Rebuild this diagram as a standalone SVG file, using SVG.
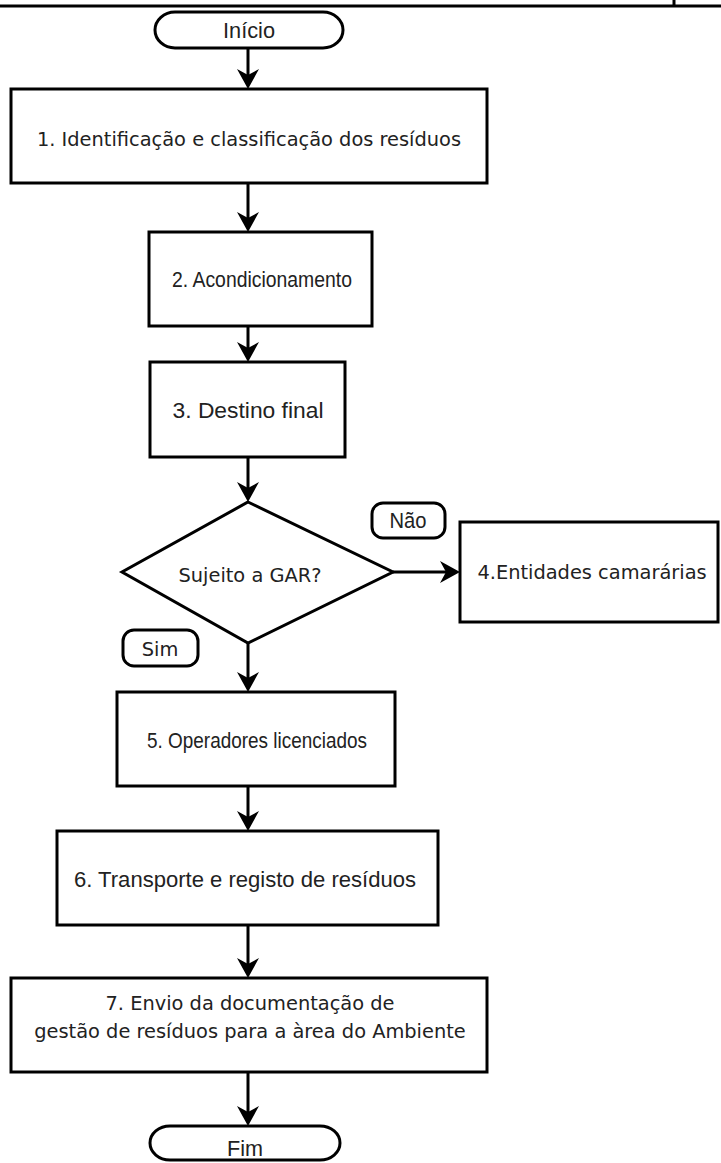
<svg xmlns="http://www.w3.org/2000/svg" width="721" height="1163" viewBox="0 0 721 1163">
  <style>
    .shape { fill: #ffffff; stroke: #000000; stroke-width: 3; }
    .wire { fill: none; stroke: #000000; stroke-width: 3; }
    .t { font-family: "DejaVu Sans", "Verdana", sans-serif; font-size: 19.4px; fill: #222222; text-anchor: middle; }
    .n { font-family: "Liberation Sans Narrow", "Liberation Sans", "Arial", sans-serif; font-size: 22.5px; fill: #222222; text-anchor: middle; }
  </style>
  <defs>
    <marker id="head" viewBox="0 -11 20 22" refX="12" refY="0" markerWidth="20" markerHeight="22" markerUnits="userSpaceOnUse" orient="auto">
      <path d="M0,-11 L20,0 L0,11 L6,0 Z" fill="#000000"/>
    </marker>
  </defs>

  <rect width="721" height="1163" fill="#ffffff"/>

  <!-- page border fragment -->
  <g id="frame">
    <line x1="0" y1="6" x2="721" y2="6" class="wire"/>
    <line x1="674" y1="0" x2="674" y2="6" class="wire"/>
  </g>

  <!-- connectors -->
  <g id="connectors">
    <line x1="248" y1="48" x2="248" y2="81" class="wire" marker-end="url(#head)"/>
    <line x1="248" y1="183" x2="248" y2="224" class="wire" marker-end="url(#head)"/>
    <line x1="248" y1="326" x2="248" y2="354" class="wire" marker-end="url(#head)"/>
    <line x1="248" y1="457" x2="248" y2="494" class="wire" marker-end="url(#head)"/>
    <line x1="393" y1="572" x2="452" y2="572" class="wire" marker-end="url(#head)"/>
    <line x1="248" y1="643" x2="248" y2="684" class="wire" marker-end="url(#head)"/>
    <line x1="248" y1="786" x2="248" y2="823" class="wire" marker-end="url(#head)"/>
    <line x1="248" y1="925" x2="248" y2="970" class="wire" marker-end="url(#head)"/>
    <line x1="248" y1="1072" x2="248" y2="1118" class="wire" marker-end="url(#head)"/>
  </g>

  <g id="inicio">
    <rect x="155" y="12" width="188" height="36" rx="20" ry="18" class="shape"/>
    <text x="249" y="38" class="n" textLength="52" lengthAdjust="spacingAndGlyphs">Início</text>
  </g>

  <g id="step1">
    <rect x="11" y="89" width="476" height="94" class="shape"/>
    <text x="249" y="146" class="t">1. Identificação e classificação dos resíduos</text>
  </g>

  <g id="step2">
    <rect x="149" y="232" width="223" height="94" class="shape"/>
    <text x="262" y="287" class="n" textLength="180" lengthAdjust="spacingAndGlyphs">2. Acondicionamento</text>
  </g>

  <g id="step3">
    <rect x="150" y="362" width="195" height="95" class="shape"/>
    <text x="248" y="418" class="n" textLength="151" lengthAdjust="spacingAndGlyphs">3. Destino final</text>
  </g>

  <g id="decision">
    <polygon points="248,502 393,572 248,643 122,572" class="shape"/>
    <text x="250" y="582" class="t">Sujeito a GAR?</text>
  </g>

  <g id="label-nao">
    <rect x="372" y="503" width="73" height="35" rx="11" ry="11" class="shape"/>
    <text x="408" y="528" class="n" textLength="37" lengthAdjust="spacingAndGlyphs">Não</text>
  </g>

  <g id="step4">
    <rect x="460" y="522" width="258" height="100" class="shape"/>
    <text x="592" y="579" class="t">4.Entidades camarárias</text>
  </g>

  <g id="label-sim">
    <rect x="123" y="630" width="75" height="36" rx="11" ry="11" class="shape"/>
    <text x="160" y="656" class="t">Sim</text>
  </g>

  <g id="step5">
    <rect x="117" y="692" width="278" height="94" class="shape"/>
    <text x="257" y="748" class="n" textLength="220" lengthAdjust="spacingAndGlyphs">5. Operadores licenciados</text>
  </g>

  <g id="step6">
    <rect x="57" y="831" width="381" height="94" class="shape"/>
    <text x="245" y="887" class="n" textLength="342" lengthAdjust="spacingAndGlyphs">6. Transporte e registo de resíduos</text>
  </g>

  <g id="step7">
    <rect x="11" y="978" width="476" height="94" class="shape"/>
    <text x="250" y="1010" class="t">7. Envio da documentação de</text>
    <text x="250" y="1038" class="t">gestão de resíduos para a àrea do Ambiente</text>
  </g>

  <g id="fim">
    <rect x="150" y="1126" width="190" height="34" rx="20" ry="17" class="shape"/>
    <text x="245" y="1156" class="n" textLength="36" lengthAdjust="spacingAndGlyphs">Fim</text>
  </g>
</svg>
